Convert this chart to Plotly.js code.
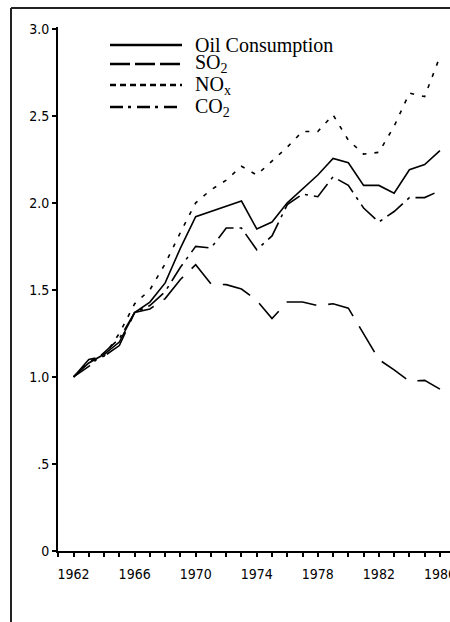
<!DOCTYPE html>
<html>
<head>
<meta charset="utf-8">
<script src="https://cdn.plot.ly/plotly-3.0.1.min.js"></script>
<style>
html,body{margin:0;padding:0;background:#fff;}
#chart{width:450px;height:622px;}
</style>
</head>
<body>
<div id="chart"></div>
<script>
// ---- data (index, 1962 = 1.0) ----
const years = [1962,1963,1964,1965,1966,1967,1968,1969,1970,1971,1972,1973,1974,1975,1976,1977,1978,1979,1980,1981,1982,1983,1984,1985,1986];
const oilConsumption = [1.00,1.08,1.13,1.20,1.37,1.43,1.54,1.74,1.92,1.95,1.98,2.01,1.85,1.89,2.00,2.08,2.16,2.255,2.23,2.10,2.10,2.055,2.19,2.22,2.30];
const so2 = [1.00,1.10,1.12,1.18,1.37,1.39,1.45,1.56,1.645,1.535,1.53,1.505,1.44,1.335,1.43,1.43,1.41,1.42,1.395,1.25,1.10,1.04,0.975,0.98,0.93];
const nox = [1.00,1.09,1.12,1.25,1.42,1.50,1.65,1.83,2.00,2.075,2.13,2.21,2.16,2.24,2.32,2.41,2.41,2.505,2.36,2.28,2.29,2.44,2.63,2.61,2.84];
const co2 = [1.00,1.06,1.14,1.22,1.37,1.41,1.49,1.63,1.75,1.74,1.855,1.855,1.73,1.81,1.99,2.05,2.035,2.15,2.10,1.97,1.89,1.95,2.03,2.03,2.07];

const seriesNames = ['Oil Consumption','SO<sub>2</sub>','NO<sub>x</sub>','CO<sub>2</sub>'];
const yTickValues = [0,0.5,1,1.5,2,2.5,3];
const yTickLabels = ['0','.5','1.0','1.5','2.0','2.5','3.0'];
const xTickValues = [1962,1966,1970,1974,1978,1982,1986];

// ---- styling ----
const W = 450, H = 622;
const M = {l:58, r:0, t:27, b:71};
const plotW = W - M.l - M.r, plotH = H - M.t - M.b;
const px2x = p => (p - M.l) / plotW;
const px2y = p => (H - M.b - p) / plotH;

const chartDash  = ['solid','30px,12px','4px,8px','20px,6px,3px,6px'];
const legendDash = ['solid','20px,5px','6px,4px','13px,5px,3px,6px'];
const seriesData = [oilConsumption, so2, nox, co2];

const traces = seriesData.map((vals, i) => ({
  type: 'scatter', mode: 'lines',
  x: years, y: vals,
  name: seriesNames[i],
  line: {color: '#000', width: 1.6, dash: chartDash[i]},
  hoverinfo: 'skip'
}));

const tickFont = {family: '"DejaVu Sans Condensed", "Liberation Sans Narrow", "Liberation Sans", sans-serif', size: 14, color: '#000'};

// manual legend (line sample + label), positioned like the reference
const legendRows = [45, 64, 85, 107];
const shapes = [];
const annotations = [];
seriesNames.forEach((name, i) => {
  shapes.push({type:'line', xref:'paper', yref:'paper',
    x0: px2x(110), x1: px2x(182), y0: px2y(legendRows[i]), y1: px2y(legendRows[i]),
    line:{color:'#000', width:2.5, dash: legendDash[i]}});
  annotations.push({xref:'paper', yref:'paper', x: px2x(193), y: px2y(legendRows[i]),
    xanchor:'left', yanchor:'middle', showarrow:false, text: name,
    font:{family:'"Liberation Serif", "Times New Roman", serif', size:20, color:'#000'}});
});
// scanned page frame
shapes.push({type:'line', xref:'paper', yref:'paper', x0:px2x(11), x1:px2x(11), y0:px2y(8), y1:px2y(H+2), line:{color:'#222', width:2}});
shapes.push({type:'line', xref:'paper', yref:'paper', x0:px2x(11), x1:px2x(W+2), y0:px2y(8), y1:px2y(8), line:{color:'#222', width:2}});

const layout = {
  width: W, height: H,
  margin: M,
  paper_bgcolor: '#fff', plot_bgcolor: '#fff',
  showlegend: false,
  xaxis: {
    range: [1960.98, 1986.66],
    tickmode: 'array', tickvals: xTickValues, ticktext: xTickValues.map(String),
    ticks: 'outside', ticklen: 4, tickwidth: 2, tickcolor: '#000',
    minor: {tickmode:'linear', tick0: 1962, dtick: 1, ticks:'outside', ticklen: 4, tickwidth: 2, tickcolor:'#000'},
    showline: true, linecolor: '#000', linewidth: 2,
    showgrid: false, zeroline: false,
    tickfont: tickFont, ticklabeloverflow: 'allow', ticklabelstandoff: 5,
    fixedrange: true
  },
  yaxis: {
    range: [0, 3.01],
    tickmode: 'array', tickvals: yTickValues, ticktext: yTickLabels,
    ticks: 'outside', ticklen: 4, tickwidth: 2, tickcolor: '#000',
    showline: true, linecolor: '#000', linewidth: 2,
    showgrid: false, zeroline: false,
    tickfont: tickFont,
    fixedrange: true
  },
  shapes: shapes,
  annotations: annotations
};

Plotly.newPlot('chart', traces, layout, {displayModeBar: false, staticPlot: true});
</script>
</body>
</html>
